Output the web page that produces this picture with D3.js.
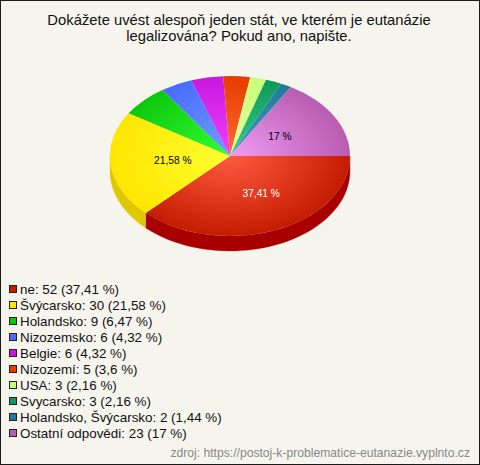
<!DOCTYPE html>
<html><head><meta charset="utf-8">
<script src="https://cdn.jsdelivr.net/npm/d3@7"></script>
<style>html,body{margin:0;padding:0;background:#f5f5ee}svg{display:block}text{font-family:"Liberation Sans",Arial,sans-serif}</style>
</head><body><svg id="c" width="480" height="465"></svg>
<script>
const categories=["ne","Švýcarsko","Holandsko","Nizozemsko","Belgie","Nizozemí","USA","Svycarsko","Holandsko, Švýcarsko","Ostatní odpovědi"];
const counts=[52,30,9,6,6,5,3,3,2,23];
const percentLabels=["37,41","21,58","6,47","4,32","4,32","3,6","2,16","2,16","1,44","17"];
const baseColors=["#c41c00","#ffe600","#0cc80c","#4a6cff","#c818e0","#e63c00","#c8ff78","#0e9a5c","#1e7a98","#b85cb0"];
const innerColors=["#ff5a40","#ffff30","#33ff33","#6e9eff","#f040ff","#ff6a30","#e8ffa0","#38cc8c","#40a0c0","#f09cf4"];
const sideColors=["#a80000","#e0c800","#0a9a0a","#3450c0","#9a10b0","#b03000","#98c858","#0a7444","#145a74","#8c4488"];
const titleLines=["Dokážete uvést alespoň jeden stát, ve kterém je eutanázie","legalizována? Pokud ano, napište."];
const sourceText="zdroj: https://postoj-k-problematice-eutanazie.vyplnto.cz";

const W=480,H=465,cx=230,cy=156,rx=120,ry=80,depth=15;
const svg=d3.select("#c");
svg.append("rect").attr("width",W).attr("height",H).attr("fill","#f5f5ee");
svg.append("rect").attr("x",.5).attr("y",.5).attr("width",W-1).attr("height",H-1).attr("fill","none").attr("stroke","#1a1a1a");

svg.append("text").attr("text-anchor","middle").attr("font-size",14.8).attr("fill","#111")
 .selectAll("tspan").data(titleLines).join("tspan").attr("x",239).attr("y",(d,i)=>25+i*15.5).text(d=>d);

const pie=d3.pie().sort(null).startAngle(Math.PI/2).endAngle(Math.PI/2+2*Math.PI)(counts);
const px=d3.scaleLinear().domain([-1,1]).range([cx-rx,cx+rx]);
const py=d3.scaleLinear().domain([-1,1]).range([cy-ry,cy+ry]);
const defs=svg.append("defs");
categories.forEach((c,i)=>{
  const g=defs.append("radialGradient").attr("id","g"+i).attr("gradientUnits","userSpaceOnUse")
    .attr("cx",0).attr("cy",0).attr("r",rx);
  g.append("stop").attr("offset",0).attr("stop-color",innerColors[i]);
  g.append("stop").attr("offset",1).attr("stop-color",baseColors[i]);
});
// front wall
const wall=d3.line();
pie.forEach((d,i)=>{
  const a0=Math.max(d.startAngle,Math.PI/2),a1=Math.min(d.endAngle,Math.PI*1.5);
  if(a1<=a0)return;
  const arcPts=d3.range(0,41).map(k=>a0+(a1-a0)*k/40).map(a=>[px(Math.sin(a)),py(-Math.cos(a))]);
  const pts=arcPts.concat(arcPts.slice().reverse().map(p=>[p[0],p[1]+depth]));
  svg.append("path").attr("d",wall(pts)+"Z").attr("fill",sideColors[i]).attr("stroke",sideColors[i]).attr("stroke-width",.3);
});
// top face
const arc=d3.arc().innerRadius(0).outerRadius(rx);
const pieTop=svg.append("g").attr("transform",`translate(${cx},${cy}) scale(1,${ry/rx})`);
pieTop.selectAll("path").data(pie).join("path").attr("d",arc).attr("fill",(d,i)=>`url(#g${i})`);
// labels
const labelFill=["#fff","#000",null,null,null,null,null,null,null,"#000"];
const labelShiftX=d=>d.index===0?9:0, labelShiftY=d=>d.index===0?2:0;
svg.append("g").selectAll("text").data(pie.filter(d=>labelFill[d.index])).join("text")
 .attr("text-anchor","middle").attr("font-size",10.2)
 .attr("x",d=>px(.48*Math.sin((d.startAngle+d.endAngle)/2))+labelShiftX(d))
 .attr("y",d=>py(-.48*Math.cos((d.startAngle+d.endAngle)/2))+3.5+labelShiftY(d))
 .attr("fill",d=>labelFill[d.index])
 .text(d=>percentLabels[d.index]+" %");
// legend
const ly=d3.scalePoint().domain(categories).range([289,433]);
const leg=svg.append("g").selectAll("g").data(categories).join("g").attr("transform",c=>`translate(0,${ly(c)})`);
leg.append("rect").attr("x",9.5).attr("y",-3.5).attr("width",7).attr("height",7).attr("stroke","#222").attr("stroke-width",1)
 .attr("fill",(c,i)=>baseColors[i]);
leg.append("text").attr("x",20).attr("y",5).attr("font-size",13.4).attr("fill","#111")
 .text((c,i)=>`${c}: ${counts[i]} (${percentLabels[i]} %)`);
svg.append("text").attr("x",470).attr("y",457).attr("text-anchor","end").attr("font-size",12.15).attr("fill","#888").text(sourceText);
</script></body></html>
